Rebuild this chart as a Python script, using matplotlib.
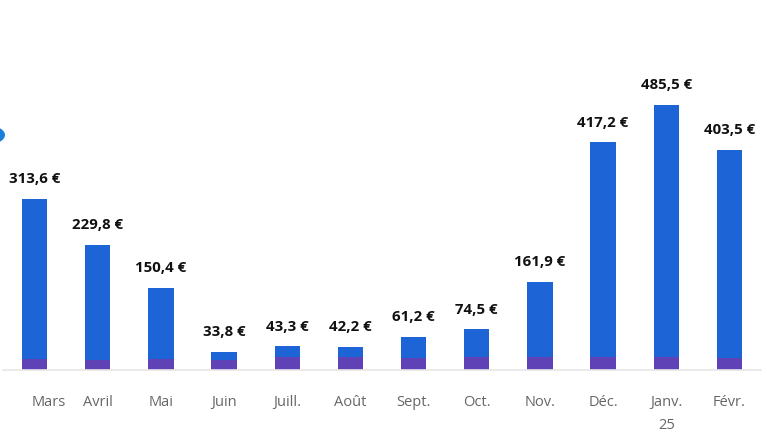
import matplotlib
matplotlib.use("Agg")
import matplotlib.pyplot as plt
from matplotlib.patches import Circle
import matplotlib.transforms as mtransforms

months = ["Mars", "Avril", "Mai", "Juin", "Juill.", "Août", "Sept.", "Oct.", "Nov.", "Déc.", "Janv.\n25", "Févr."]
totals = [313.6, 229.8, 150.4, 33.8, 43.3, 42.2, 61.2, 74.5, 161.9, 417.2, 485.5, 403.5]
purple_part = [20, 18, 20, 19, 24, 24, 22, 24, 24, 24, 24, 22]
blue_part = [t - p for t, p in zip(totals, purple_part)]
labels = [f"{t:.1f}".replace(".", ",") + " €" for t in totals]

W, H = 767, 441
fig = plt.figure(figsize=(W / 100, H / 100), dpi=100)
ax_left, ax_right = 3, 761
ax_bottom, ax_top = 370, 20
ax = fig.add_axes([ax_left / W, 1 - ax_bottom / H, (ax_right - ax_left) / W, (ax_bottom - ax_top) / H])

x = list(range(len(months)))
ax.bar(x, purple_part, width=0.4, color="#5E42B6", zorder=2)
ax.bar(x, blue_part, width=0.4, bottom=purple_part, color="#1D65D6", zorder=2)

ymax = (ax_bottom - ax_top) / 0.546
ax.set_ylim(0, ymax)
ax.set_xlim(-0.5, len(months) - 0.5)

for xi, t, lab in zip(x, totals, labels):
    ax.annotate(lab, (xi, t), xytext=(0, 9), textcoords="offset points",
                ha="center", va="bottom", fontsize=10.8, fontweight="bold",
                family="Open Sans", color="#111111")

for s in ["top", "right", "left"]:
    ax.spines[s].set_visible(False)
ax.spines["bottom"].set_color("#E6E6E6")
ax.spines["bottom"].set_linewidth(1.2)
ax.set_yticks([])
ax.set_xticks(x)
ax.set_xticklabels(months, fontsize=10.5, color="#666666", family="Open Sans", linespacing=1.75, va="top")
ax.tick_params(axis="x", length=0, pad=18)
first = ax.get_xticklabels()[0]
first.set_transform(first.get_transform() + mtransforms.ScaledTranslation(14 / 100, 0, fig.dpi_scale_trans))

# partial blue circle at left edge
circ = Circle((-11 / W, 1 - 135 / H), radius=16 / W, transform=fig.transFigure,
              facecolor="#1A7FD9", edgecolor="none", zorder=5)
fig.patches.append(circ)

fig.savefig("out.png", dpi=100)
